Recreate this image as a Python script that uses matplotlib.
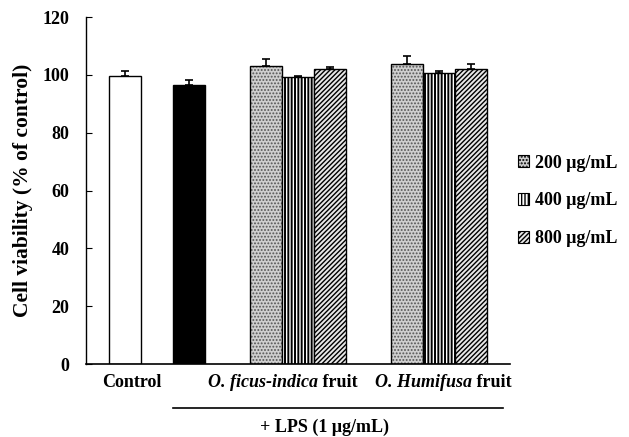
import numpy as np
import matplotlib
matplotlib.use('Agg')
import matplotlib.pyplot as plt
from matplotlib.patches import Patch

plt.rcParams['font.family'] = ['Liberation Serif', 'DejaVu Serif']
plt.rcParams['font.weight'] = 'bold'

# data
ctrl_vals = [99.7, 96.5]
ctrl_err = [1.8, 1.8]
doses = ['200 μg/mL', '400 μg/mL', '800 μg/mL']
ficus_vals = [102.9, 99.2, 102.1]
ficus_err = [2.6, 0.3, 0.5]
humi_vals = [103.9, 100.5, 102.2]
humi_err = [2.5, 1.0, 1.5]

fig = plt.figure(figsize=(6.29, 4.37), dpi=100)
ax = fig.add_axes([0.1367, 0.167, 0.674, 0.794])

w = 1.0
x_ctrl = np.array([0, 2.0])
x_ficus = np.array([4.4, 5.4, 6.4])
x_humi = np.array([8.8, 9.8, 10.8])

ekw = dict(ecolor='black', elinewidth=1.2, capsize=3, capthick=1.2)
ax.bar(x_ctrl[0], ctrl_vals[0], w, color='white', edgecolor='black', lw=1.0,
       yerr=[[0], [ctrl_err[0]]], error_kw=ekw)
ax.bar(x_ctrl[1], ctrl_vals[1], w, color='black', edgecolor='black', lw=1.0,
       yerr=[[0], [ctrl_err[1]]], error_kw=ekw)

# fill, hatch, hatch colour, hatch line width
styles = [('#cfcfcf', '.....', '#555555', 0.9),
          ('white', '|||||', 'black', 1.4),
          ('#e8e8e8', '///////', 'black', 1.0)]


def hatched_bar(x, h, i, err=None):
    fc, hatch, hc, hlw = styles[i]
    plt.rcParams['hatch.linewidth'] = hlw
    ax.bar(x, h, w, color=fc, hatch=hatch, edgecolor=hc, lw=0)
    ax.bar(x, h, w, fill=False, edgecolor='black', lw=1.0,
           yerr=None if err is None else [[0], [err]], error_kw=ekw)


for xs, vals, errs in [(x_ficus, ficus_vals, ficus_err), (x_humi, humi_vals, humi_err)]:
    for i in range(3):
        hatched_bar(xs[i], vals[i], i, errs[i])

ax.set_xlim(-1.22, 12.0)
ax.set_ylim(0, 120)
ax.set_yticks(np.arange(0, 121, 20))
ax.tick_params(axis='y', direction='in', length=4, labelsize=13, pad=12)
ax.set_xticks([])
for s in ['top', 'right']:
    ax.spines[s].set_visible(False)
ax.spines['left'].set_linewidth(1.0)
ax.spines['bottom'].set_linewidth(1.2)
for lab in ax.get_yticklabels():
    lab.set_fontweight('bold')

ax.set_ylabel('Cell viability (% of control)', fontsize=15.5, fontweight='bold')
ax.yaxis.set_label_coords(-0.125, 0.5)

# group labels under the axis
tr = ax.transAxes
fx = lambda px: (px - 86) / 424.0
fy = lambda py: (364 - py) / 347.0
fs = 13
ax.text(fx(132), fy(382), 'Control', transform=tr, ha='center', va='center', fontsize=fs)
for start, name in [(208, 'O. ficus-indica'), (375, 'O. Humifusa')]:
    t = ax.text(fx(start), fy(382), name, transform=tr, ha='left', va='center',
                fontsize=fs, style='italic')
    ax.annotate(' fruit', xy=(1, 0.5), xycoords=t, ha='left', va='center', fontsize=fs)
ax.plot([fx(173), fx(503)], [fy(408), fy(408)], color='black', lw=1.2,
        transform=tr, clip_on=False)
ax.text(fx(325), fy(427), '+ LPS (1 μg/mL)', transform=tr, ha='center', va='center',
        fontsize=fs)

handles = []
for fc, hatch, hc, hlw in styles:
    plt.rcParams['hatch.linewidth'] = hlw
    handles.append(Patch(facecolor=fc, hatch=hatch, edgecolor='black', lw=0.8))
leg = ax.legend(handles, doses, loc='center left', bbox_to_anchor=(1.018, 0.47),
                frameon=False, handlelength=0.65, handleheight=0.65, handletextpad=0.3,
                labelspacing=1.15, borderpad=0, borderaxespad=0,
                prop={'size': 13, 'weight': 'bold'})

fig.savefig('out.png', dpi=100)
